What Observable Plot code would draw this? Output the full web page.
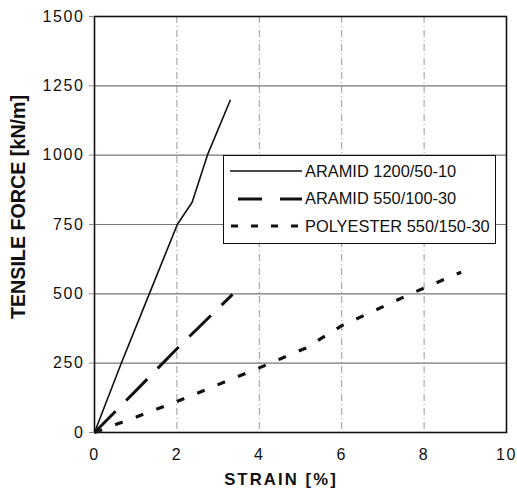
<!DOCTYPE html>
<html><head><meta charset="utf-8">
<script src="https://cdn.jsdelivr.net/npm/d3@7"></script>
<script src="https://cdn.jsdelivr.net/npm/@observablehq/plot@0.6"></script>
<style>
body{margin:0;background:#fff;font-family:"Liberation Sans",Arial,sans-serif;}
#wrap{position:relative;width:517px;height:496px;}
#legend{position:absolute;left:223px;top:155px;width:271px;height:87px;border:1.5px solid #111;background:#fff;}
.row{position:absolute;left:6px;height:20px;display:flex;align-items:center;font-size:16.4px;color:#111;}
.row svg{margin-right:3px;}
</style></head>
<body><div id="wrap"><div id="legend"></div></div>
<script>
const seriesNames = ["ARAMID 1200/50-10", "ARAMID 550/100-30", "POLYESTER 550/150-30"];
const strainA1200 = [0, 0.65, 1.33, 2.01, 2.37, 2.74, 3.3];
const forceA1200  = [0, 250, 500, 750, 830, 1000, 1200];
const strainA550  = [0, 1.0, 2.0, 3.35];
const forceA550   = [0, 150, 302, 498];
const strainP550  = [0, 1.0, 2.0, 4.0, 5.13, 6.0, 7.72, 8.9];
const forceP550   = [0, 55, 112, 233, 305, 385, 503, 578];
const xTicks = [0, 2, 4, 6, 8, 10];
const yTicks = [0, 250, 500, 750, 1000, 1250, 1500];

const styles = [
  {width: 1.6, dash: null},
  {width: 3, dash: "30,15"},
  {width: 3.2, dash: "8,14"}
];
const rows = (xs, ys) => xs.map((x, i) => ({x, y: ys[i]}));
const series = [rows(strainA1200, forceA1200), rows(strainA550, forceA550), rows(strainP550, forceP550)];

const chart = Plot.plot({
  width: 517, height: 496,
  marginLeft: 94, marginRight: 11, marginTop: 16, marginBottom: 64,
  style: {fontFamily: '"Liberation Sans", Arial, sans-serif', fontSize: "16px", color: "#111", background: "transparent"},
  x: {domain: [0, 10], label: null},
  y: {domain: [0, 1500], label: null},
  marks: [
    Plot.ruleX(xTicks.slice(1, -1), {stroke: "#999", strokeWidth: 1, strokeDasharray: "7,3,1,3"}),
    Plot.ruleY(yTicks.slice(1, -1), {stroke: "#777", strokeWidth: 1.2}),
    ...series.map((d, i) => Plot.line(d, {x: "x", y: "y", stroke: "#111", strokeWidth: styles[i].width, strokeDasharray: styles[i].dash, strokeLinecap: "butt"})),
    Plot.frame({stroke: "#111", strokeWidth: 1.6}),
    Plot.axisX({ticks: xTicks, tickSize: 0, tickPadding: 16, tickFormat: d => String(d), label: null}),
    Plot.axisY({ticks: yTicks, tickSize: 5, tickPadding: 5, tickFormat: d => String(d), stroke: "#888", label: null})
  ]
});
const wrap = document.getElementById("wrap");
wrap.insertBefore(chart, wrap.firstChild);

const svg = d3.select(chart);
svg.selectAll('g[aria-label$="tick label"]').attr("letter-spacing", "1.6");
svg.append("text").attr("x", 281).attr("y", 485).attr("text-anchor", "middle")
  .attr("font-weight", "bold").attr("font-size", 16.7).attr("letter-spacing", 2.1).attr("fill", "#111").text("STRAIN [%]");
svg.append("text").attr("transform", "translate(25,207) rotate(-90)").attr("text-anchor", "middle")
  .attr("font-weight", "bold").attr("font-size", 19.7).attr("fill", "#111").text("TENSILE FORCE [kN/m]");

const leg = document.getElementById("legend");
seriesNames.forEach((name, i) => {
  const r = document.createElement("div");
  r.className = "row";
  r.style.top = (5 + i * 27.5) + "px";
  const dash = i === 0 ? "" : (i === 1 ? 'stroke-dasharray="24,18" stroke-dashoffset="-8"' : 'stroke-dasharray="7,13" stroke-dashoffset="-1"');
  r.innerHTML = `<svg width="72" height="20"><line x1="0" y1="10" x2="72" y2="10" stroke="#111" stroke-width="${i === 0 ? 1.4 : 3}" ${dash}/></svg><span>${name}</span>`;
  leg.appendChild(r);
});
</script></body></html>
